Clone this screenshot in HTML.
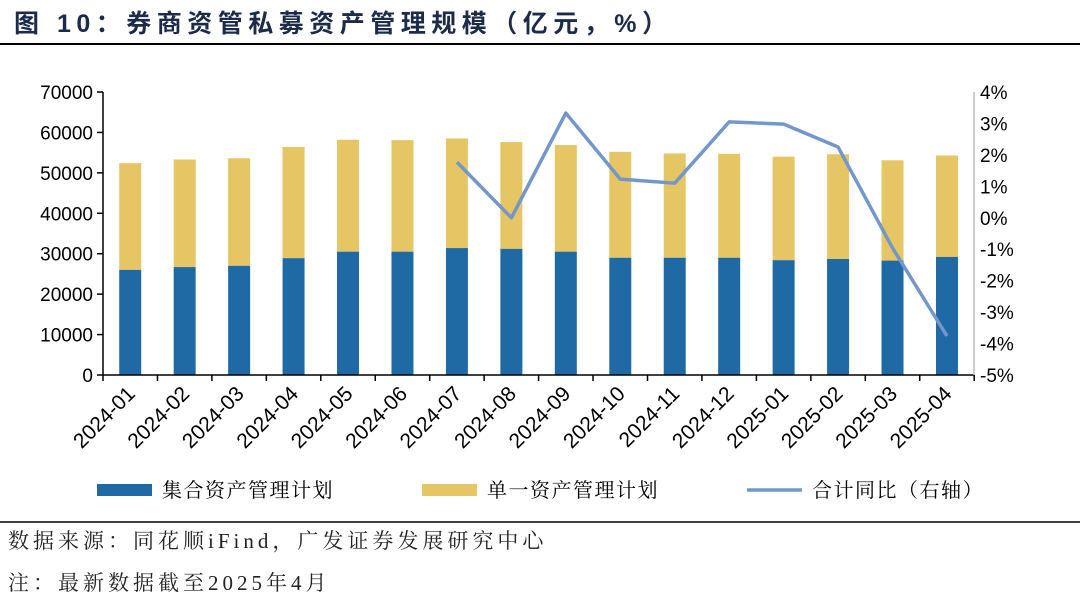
<!DOCTYPE html>
<html><head><meta charset="utf-8"><style>
body{margin:0;background:#fff;}
svg{display:block;}
</style></head><body>
<svg width="1080" height="606" xmlns="http://www.w3.org/2000/svg">
<text x="14" y="32" font-family="Liberation Sans, Noto Sans CJK SC, sans-serif" font-size="25" font-weight="bold" fill="#1c2b4a" letter-spacing="5.5">图 10：券商资管私募资产管理规模（亿元，%）</text>
<line x1="0" y1="44" x2="1080" y2="44" stroke="#000" stroke-width="2"/>
<g id="chart"></g>
<line x1="0" y1="522" x2="1080" y2="522" stroke="#000" stroke-width="1.5"/>
<text x="8" y="548" font-family="Liberation Serif, Noto Serif CJK SC, serif" font-size="21" fill="#222" letter-spacing="4">数据来源：同花顺iFind，广发证券发展研究中心</text>
<text x="8" y="590" font-family="Liberation Serif, Noto Serif CJK SC, serif" font-size="21" fill="#222" letter-spacing="4">注：最新数据截至2025年4月</text>
</svg>
<script>
const g=document.getElementById('chart');const NS='http://www.w3.org/2000/svg';
function el(t,a,txt){const e=document.createElementNS(NS,t);for(const k in a)e.setAttribute(k,a[k]);if(txt!==undefined)e.textContent=txt;g.appendChild(e);return e;}
const L=103,R=974,Y0=375,YT=92,step=54.45;
const yl=v=>Y0-(v/70000)*(Y0-YT);
const yr=p=>YT+(4-p)*(Y0-YT)/9;
const blue=[26000,26700,27000,28900,30500,30500,31400,31200,30500,29000,29000,29000,28400,28700,28300,29200];
const tot=[52400,53300,53600,56400,58200,58100,58500,57600,56900,55200,54800,54700,54000,54600,53100,54300];
const pct=[null,null,null,null,null,null,1.77,0.0,3.33,1.23,1.1,3.05,2.98,2.25,-0.96,-3.76];
const labs=['2024-01','2024-02','2024-03','2024-04','2024-05','2024-06','2024-07','2024-08','2024-09','2024-10','2024-11','2024-12','2025-01','2025-02','2025-03','2025-04'];
const F='Liberation Sans, sans-serif';
for(let i=0;i<16;i++){const c=L+step*(i+0.5);
el('rect',{x:c-11,y:yl(tot[i]),width:22,height:yl(blue[i])-yl(tot[i]),fill:'#e6c564'});
el('rect',{x:c-11,y:yl(blue[i]),width:22,height:Y0-yl(blue[i]),fill:'#1f6aa5'});
el('text',{x:c+6,y:395,'text-anchor':'end','font-family':F,'font-size':21,transform:`rotate(-45 ${c+6} 395)`},labs[i]);
}
for(let i=0;i<=16;i++){const x=L+step*i;el('line',{x1:x,y1:Y0,x2:x,y2:Y0+6,stroke:'#000','stroke-width':1.5});}
el('line',{x1:L,y1:YT,x2:L,y2:Y0,stroke:'#000','stroke-width':1.5});
el('line',{x1:L,y1:Y0,x2:R,y2:Y0,stroke:'#000','stroke-width':1.5});
el('line',{x1:R,y1:YT,x2:R,y2:Y0,stroke:'#bbb','stroke-width':1.5});
for(let v=0;v<=70000;v+=10000){const y=yl(v);el('line',{x1:L-6,y1:y,x2:L,y2:y,stroke:'#000','stroke-width':1.5});
el('text',{x:L-10,y:y+7,'text-anchor':'end','font-family':F,'font-size':19},String(v));}
for(let p=4;p>=-5;p--){const y=yr(p);
el('text',{x:R+6,y:y+7,'font-family':F,'font-size':19},p+'%');}
let pts=[];for(let i=0;i<16;i++)if(pct[i]!==null)pts.push((L+step*(i+0.5))+','+yr(pct[i]));
el('polyline',{points:pts.join(' '),fill:'none',stroke:'#7397ca','stroke-width':3.5,'stroke-linejoin':'round'});
const SF='Liberation Serif, Noto Serif CJK SC, serif';
el('rect',{x:97,y:484,width:55,height:12,fill:'#1f6aa5'});
el('text',{x:162,y:497,'font-family':SF,'font-size':20,'letter-spacing':1.5},'集合资产管理计划');
el('rect',{x:422,y:484,width:55,height:12,fill:'#e6c564'});
el('text',{x:487,y:497,'font-family':SF,'font-size':20,'letter-spacing':1.5},'单一资产管理计划');
el('line',{x1:747,y1:490,x2:802,y2:490,stroke:'#7397ca','stroke-width':3.5});
el('text',{x:812,y:497,'font-family':SF,'font-size':20,'letter-spacing':1.5},'合计同比（右轴）');
</script>
</body></html>
